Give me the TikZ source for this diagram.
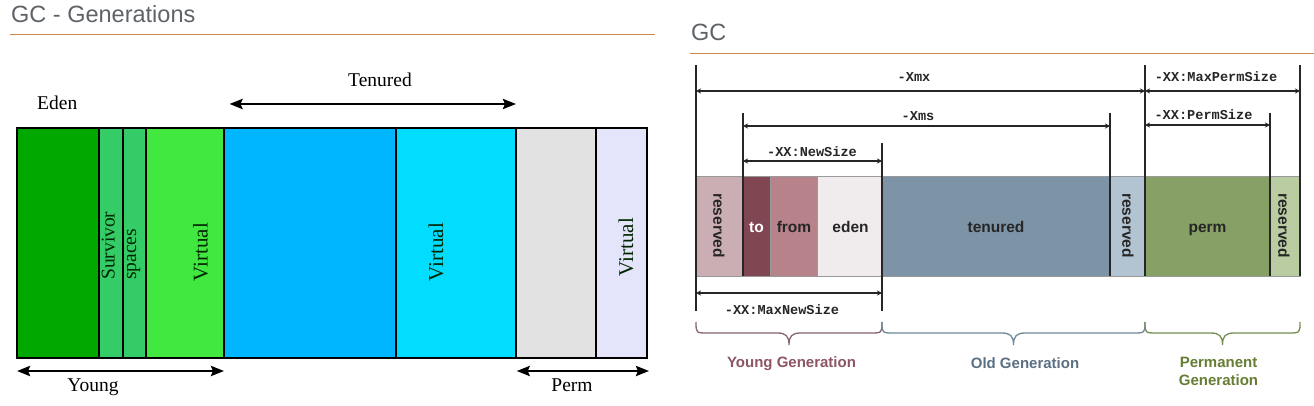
\documentclass[tikz,border=0pt]{standalone}
\usepackage{fontspec}
\setmainfont{Liberation Serif}
\newfontfamily\arialf{Liberation Sans}
\newfontfamily\monof{Liberation Mono}
\usetikzlibrary{arrows.meta}
\definecolor{titlegray}{RGB}{95,99,104}
\definecolor{ruleor}{RGB}{204,136,72}
\definecolor{edenG}{RGB}{0,168,0}
\definecolor{survG}{RGB}{51,204,102}
\definecolor{virtG}{RGB}{64,232,64}
\definecolor{tenB}{RGB}{0,182,255}
\definecolor{virtC}{RGB}{0,221,255}
\definecolor{permGr}{RGB}{226,226,226}
\definecolor{virtL}{RGB}{228,228,250}
\definecolor{resY}{RGB}{202,174,179}
\definecolor{toC}{RGB}{128,70,82}
\definecolor{fromC}{RGB}{184,130,138}
\definecolor{edenC}{RGB}{240,236,238}
\definecolor{tenC}{RGB}{124,148,166}
\definecolor{resO}{RGB}{178,196,210}
\definecolor{permC}{RGB}{134,160,102}
\definecolor{resP}{RGB}{186,204,162}
\definecolor{youngT}{RGB}{140,86,100}
\definecolor{oldT}{RGB}{92,112,132}
\definecolor{permT}{RGB}{102,126,52}
\definecolor{youngB}{RGB}{135,100,110}
\definecolor{oldB}{RGB}{112,136,152}
\definecolor{permB}{RGB}{118,142,84}
\begin{document}
\begin{tikzpicture}[x=1pt,y=-1pt,
  lseg/.style={draw=black,line width=2pt,inner sep=0pt,outer sep=0pt,anchor=north west,minimum height=230pt},
  rseg/.style={draw=black!40,line width=0.8pt,inner sep=0pt,outer sep=0pt,anchor=north west,minimum height=100pt},
  ltext/.style={font=\fontsize{19.5}{21}\selectfont,text=black,inner sep=0pt},
  vtext/.style={font=\fontsize{21}{23}\selectfont,text=black!85!green,inner sep=0pt,rotate=90},
  bigarrow/.style={line width=2.6pt,{Stealth[length=13pt,width=10pt,inset=2pt]}-{Stealth[length=13pt,width=10pt,inset=2pt]}},
  titletext/.style={font=\arialf\fontsize{23.5}{26}\selectfont,text=titlegray,inner sep=0pt},
  dimline/.style={line width=1.3pt,black!85},
  dimarrow/.style={line width=1.1pt,black!85,{Stealth[length=5pt,width=5pt,inset=1.5pt]}-{Stealth[length=5pt,width=5pt,inset=1.5pt]}},
  mono/.style={font=\monof\bfseries\fontsize{13.6}{15}\selectfont,inner sep=0pt,text=black!85},
  barlabel/.style={font=\arialf\bfseries\fontsize{15.5}{17}\selectfont,inner sep=0pt,text=black!85},
  genlabel/.style={font=\arialf\bfseries\fontsize{15}{18}\selectfont,inner sep=0pt,align=center},
  bracepath/.style={line width=1.3pt},
  rulestyle/.style={ruleor,line width=1.4pt}
]
\useasboundingbox (0,0) rectangle (1314,406);
\fill[white] (0,0) rectangle (1314,406);

% ---------------- Left panel ----------------
\node[titletext,anchor=base west] (ltitle) at (11,22.7) {GC - Generations};
\coordinate (lruleA) at (10,34.5);
\coordinate (lruleB) at (655,34.5);
\draw[rulestyle] (lruleA) -- (lruleB);

\node[lseg,fill=edenG,minimum width=82pt] (sEden) at (17,128) {};
\node[lseg,fill=survG,minimum width=23.5pt] (sSurv1) at (99,128) {};
\node[lseg,fill=survG,minimum width=23.5pt] (sSurv2) at (122.5,128) {};
\node[lseg,fill=virtG,minimum width=77.5pt] (sVirt1) at (146,128) {};
\node[lseg,fill=tenB,minimum width=172.5pt] (sTen) at (223.5,128) {};
\node[lseg,fill=virtC,minimum width=120pt] (sVirt2) at (396,128) {};
\node[lseg,fill=permGr,minimum width=80pt] (sPerm) at (516,128) {};
\node[lseg,fill=virtL,minimum width=51pt] (sVirt3) at (596,128) {};

\node[ltext,text=black!85!green,rotate=90,anchor=base west] (tSurv) at (114.5,280) {Survivor};
\node[ltext,text=black!85!green,rotate=90,anchor=base west] (tSpaces) at (136,280) {spaces};
\node[vtext] (tVirt1) at (200.5,252) {Virtual};
\node[vtext] (tVirt2) at (436,252) {Virtual};
\node[vtext] (tVirt3) at (626,247) {Virtual};

\node[ltext,anchor=base west] (tEden) at (37,110) {Eden};
\node[ltext,anchor=base] (tTenured) at (380,87) {Tenured};
\node[ltext,anchor=base] (tYoung) at (93,391) {Young};
\node[ltext,anchor=base] (tPerm) at (572,391) {Perm};

\coordinate (tenA) at (229.5,104);
\coordinate (tenB) at (516,104);
\coordinate (youA) at (17,371);
\coordinate (youB) at (224,371);
\coordinate (perA) at (516.7,371);
\coordinate (perB) at (649,371);
\draw[bigarrow] (tenA) -- (tenB);
\draw[bigarrow] (youA) -- (youB);
\draw[bigarrow] (perA) -- (perB);

% ---------------- Right panel ----------------
\node[titletext,anchor=base west] (rtitle) at (691,41) {GC};
\coordinate (rruleA) at (690,53.5);
\coordinate (rruleB) at (1314,53.5);
\draw[rulestyle] (rruleA) -- (rruleB);

\node[rseg,fill=resY,minimum width=47pt] (bRes1) at (696,176) {};
\node[rseg,fill=toC,minimum width=27pt] (bTo) at (743,176) {};
\node[rseg,fill=fromC,minimum width=47pt] (bFrom) at (770,176) {};
\node[rseg,fill=edenC,minimum width=65pt] (bEden) at (817,176) {};
\node[rseg,fill=tenC,minimum width=228pt] (bTen) at (882,176) {};
\node[rseg,fill=resO,minimum width=35pt] (bRes2) at (1110,176) {};
\node[rseg,fill=permC,minimum width=125pt] (bPerm) at (1145,176) {};
\node[rseg,fill=resP,minimum width=30pt] (bRes3) at (1270,176) {};

\node[barlabel,rotate=-90] (lRes1) at (719,225.5) {reserved};
\node[barlabel,rotate=-90] (lRes2) at (1128,225.5) {reserved};
\node[barlabel,rotate=-90] (lRes3) at (1284,225.5) {reserved};
\node[barlabel,anchor=base,text=white] (lTo) at (756.5,232.5) {to};
\node[barlabel,anchor=base] (lFrom) at (794,232.5) {from};
\node[barlabel,anchor=base] (lEden) at (850.5,232.5) {eden};
\node[barlabel,anchor=base] (lTen) at (996,232.5) {tenured};
\node[barlabel,anchor=base] (lPerm) at (1207.5,232.5) {perm};

% extension lines
\coordinate (v1t) at (696,65);   \coordinate (v1b) at (696,311);
\coordinate (v2t) at (743,113);  \coordinate (v2b) at (743,276);
\coordinate (v3t) at (882,143);  \coordinate (v3b) at (882,311);
\coordinate (v4t) at (1110,113); \coordinate (v4b) at (1110,276);
\coordinate (v5t) at (1145,65);  \coordinate (v5b) at (1145,276);
\coordinate (v6t) at (1270,113); \coordinate (v6b) at (1270,276);
\coordinate (v7t) at (1300,65);  \coordinate (v7b) at (1300,276);
\foreach \n in {1,...,7} {\draw[dimline] (v\n t) -- (v\n b);}

% dimension arrows
\coordinate (xmxA) at (696,91);  \coordinate (xmxB) at (1145,91);
\coordinate (xmsA) at (743,126); \coordinate (xmsB) at (1110,126);
\coordinate (nsA) at (743,161);  \coordinate (nsB) at (882,161);
\coordinate (mpA) at (1145,91);  \coordinate (mpB) at (1300,91);
\coordinate (psA) at (1145,125); \coordinate (psB) at (1270,125);
\coordinate (mnA) at (696,293);  \coordinate (mnB) at (882,293);
\draw[dimarrow] (xmxA) -- (xmxB);
\draw[dimarrow] (xmsA) -- (xmsB);
\draw[dimarrow] (nsA) -- (nsB);
\draw[dimarrow] (mpA) -- (mpB);
\draw[dimarrow] (psA) -- (psB);
\draw[dimarrow] (mnA) -- (mnB);

\node[mono] (dXmx) at (914,76.7) {-Xmx};
\node[mono] (dXms) at (918,116) {-Xms};
\node[mono] (dNew) at (812,151.7) {-XX:NewSize};
\node[mono] (dMaxPerm) at (1216,76.7) {-XX:MaxPermSize};
\node[mono] (dPerm) at (1203.5,115) {-XX:PermSize};
\node[mono] (dMaxNew) at (782,310) {-XX:MaxNewSize};

% braces
\draw[bracepath,youngB] (696,322) .. controls (696,333) .. (708,333) -- (777,333)
   .. controls (786,333) and (789,336) .. (789,345)
   .. controls (789,336) and (792,333) .. (801,333) -- (870,333) .. controls (882,333) .. (882,322);
\draw[bracepath,oldB] (882,322) .. controls (882,333) .. (894,333) -- (1001.5,333)
   .. controls (1010.5,333) and (1013.5,336) .. (1013.5,345)
   .. controls (1013.5,336) and (1016.5,333) .. (1025.5,333) -- (1133,333) .. controls (1145,333) .. (1145,322);
\draw[bracepath,permB] (1145,322) .. controls (1145,333) .. (1157,333) -- (1210.5,333)
   .. controls (1219.5,333) and (1222.5,336) .. (1222.5,345)
   .. controls (1222.5,336) and (1225.5,333) .. (1234.5,333) -- (1288,333) .. controls (1300,333) .. (1300,322);

\node[genlabel,text=youngT,anchor=base] (gYoung) at (791.5,367.5) {Young Generation};
\node[genlabel,text=oldT,anchor=base] (gOld) at (1025,368) {Old Generation};
\node[genlabel,text=permT,anchor=north] (gPerm) at (1218.5,357.3) {Permanent\\Generation};
\end{tikzpicture}
\end{document}
